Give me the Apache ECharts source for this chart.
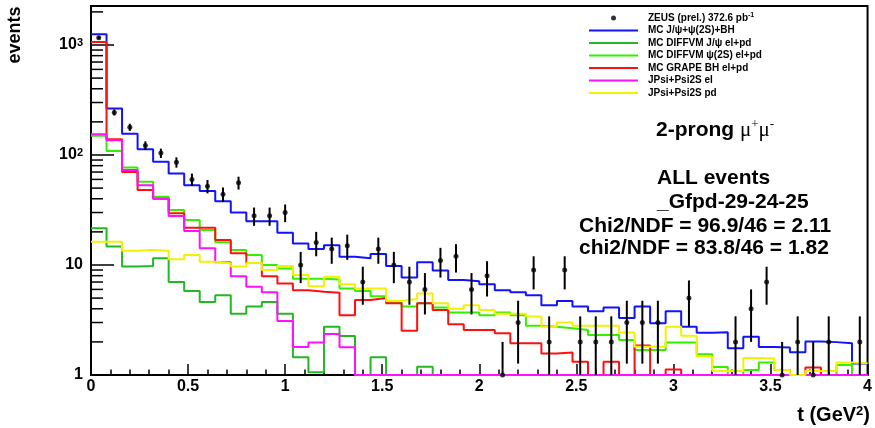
<!DOCTYPE html>
<html>
<head>
<meta charset="utf-8">
<title>t distribution, 2-prong</title>
<script src="https://cdn.jsdelivr.net/npm/echarts@6/dist/echarts.min.js"></script>
<style>
  html, body { margin: 0; padding: 0; background: #fff; }
  #chart { width: 875px; height: 428px; }
</style>
</head>
<body>
<div id="chart"></div>
<script>
// 50 bins of 0.08 GeV^2 between 0 and 4
const binWidth = 0.08;
const binCount = 50;
const yMin = 1;
const yMax = 2262;

// ZEUS (prel.) 372.6 pb-1, events per bin (0 = empty bin, no point)
const zeusCounts = [
  1165, 244, 179, 122, 104, 86, 60, 52, 44, 56,
  28, 28, 30, 10, 16, 14, 15, 7, 14, 10,
  7, 6, 11, 12, 6, 8, 1, 3, 9, 2,
  9, 2, 2, 2, 3, 3, 3, 0, 5, 0,
  0, 2, 4, 7, 1, 2, 1, 2, 0, 2
];

// MC J/psi+psi(2S)+BH (sum)
const mcTotal = [
  1250, 264, 156, 113, 87, 68, 53, 47, 38, 30,
  25, 25, 19.6, 15.7, 14.0, 15.1, 11.9, 11.5, 12.6, 9.8,
  7.7, 10.6, 8.9, 7.3, 7.1, 6.7, 5.9, 5.65, 5.3, 4.3,
  4.7, 4.2, 3.8, 4.1, 3.3, 4.2, 2.95, 3.8, 2.75, 2.42,
  2.45, 1.75, 2.23, 1.8, 1.78, 1.61, 2.02, 1.99, 1.94, 1.27
];

// MC DIFFVM J/psi el+pd
const diffvmJpsi = [
  21.6, 14.7, 9.7, 9.8, 11.5, 7.0, 5.8, 4.6, 5.3, 3.6,
  4.2, 4.6, 3.6, 1.45, 1.06, 2.75, 2.26, 0, 1.45, 0,
  1.0, 1.19, 0, 0, 0, 0, 0, 0, 0, 0,
  0, 0, 0, 0, 0, 0, 0, 1.0, 0, 0,
  0, 0, 0, 0, 0, 0, 0, 0, 0, 0
];

// MC DIFFVM psi(2S) el+pd
const diffvmPsi2s = [
  150, 109, 77, 57, 41.8, 31.6, 25.7, 20.8, 16.1, 13.7,
  12.3, 10, 9.3, 7.5, 7.5, 7.4, 6.1, 5.8, 5.2, 4.6,
  4.2, 4.5, 4.1, 3.7, 3.7, 3.5, 3.7, 3.5, 2.8, 2.75,
  2.66, 2.56, 2.31, 2.31, 2.08, 1.69, 1.69, 1.97, 1.97, 1.54,
  1.18, 0, 1.11, 1.3, 1.11, 0, 0, 0, 1.23, 0
];

// MC GRAPE BH el+pd
const grapeBH = [
  1065, 139, 70, 48, 40, 29.5, 21.8, 21.8, 16.9, 12.8,
  10.4, 7.9, 6.8, 5.9, 5.7, 5.6, 3.5, 4.8, 5.0, 4.5,
  2.53, 4.5, 3.9, 2.9, 2.56, 2.56, 2.4, 1.94, 1.94, 1.57,
  1.6, 1.32, 0, 1.32, 0, 1.85, 0, 1.12, 0, 0,
  1.0, 0, 0, 0, 0, 0, 1.17, 0, 0, 0
];

// JPsi+Psi2S el
const psiEl = [
  154, 136, 73, 53, 40, 27.9, 20.4, 14.2, 10.6, 7.9,
  6.35, 5.65, 3.1, 1.8, 1.97, 2.36, 1.79, 0, 0, 0,
  0, 0, 0, 0, 0, 0, 0, 0, 0, 0,
  0, 0, 0, 0, 0, 0, 0, 0, 0, 0,
  0, 0, 0, 0, 0, 0, 0, 0, 0, 0
];

// JPsi+Psi2S pd
const psiPd = [
  16.3, 16.3, 13.5, 13.7, 13.5, 11.3, 12.3, 10.7, 10.4, 9.7,
  10.4, 9.0, 9.8, 8.1, 6.4, 7.8, 6.7, 6.1, 6.1, 4.7,
  4.9, 5.5, 4.5, 4.0, 4.3, 3.9, 3.6, 3.6, 3.4, 2.75,
  3.0, 2.8, 2.8, 2.8, 2.43, 1.81, 1.81, 2.75, 2.27, 1.47,
  1.09, 1.09, 1.43, 1.41, 1.11, 0, 1.09, 1.09, 1.3, 1.28
];

// minor ticks of the log axis
const yMinorTicks = [2, 3, 4, 5, 6, 7, 8, 9, 20, 30, 40, 50, 60, 70, 80, 90,
  200, 300, 400, 500, 600, 700, 800, 900, 2000];

const zeusName = 'ZEUS (prel.) 372.6 pb-1';
const histos = [
  { name: 'MC J/ψ+ψ(2S)+BH', values: mcTotal, color: '#1212ff' },
  { name: 'MC DIFFVM J/ψ el+pd', values: diffvmJpsi, color: '#22b822' },
  { name: 'MC DIFFVM ψ(2S) el+pd', values: diffvmPsi2s, color: '#33f000' },
  { name: 'MC GRAPE BH el+pd', values: grapeBH, color: '#ff1010' },
  { name: 'JPsi+Psi2S el', values: psiEl, color: '#ff10ff' },
  { name: 'JPsi+Psi2S pd', values: psiPd, color: '#f2f200' }
];

const font = 'Liberation Sans';
const lineIcon = 'path://M0,0L49,0L49,2L0,2Z';

// step outline: one point per lower bin edge, plus the upper edge of the last bin
function stepData(values) {
  const pts = values.map((v, i) => [+(i * binWidth).toFixed(2), Math.max(v, yMin)]);
  pts.push([binCount * binWidth, Math.max(values[binCount - 1], yMin)]);
  return pts;
}

const zeusPoints = [];
zeusCounts.forEach((n, i) => {
  if (n > 0) zeusPoints.push([(i + 0.5) * binWidth, n]);
});

const histSeries = histos.map(h => ({
  name: h.name,
  type: 'line',
  step: 'end',
  symbol: 'none',
  data: stepData(h.values),
  lineStyle: { color: h.color, width: 2 },
  itemStyle: { color: h.color },
  z: 3
}));

const chart = echarts.init(document.getElementById('chart'));

chart.setOption({
  animation: false,
  grid: {
    left: 91, right: 4, top: 6, bottom: 53,
    show: true, borderColor: '#000', borderWidth: 2
  },
  legend: {
    orient: 'vertical',
    left: 589, top: 12,
    padding: 0,
    itemWidth: 49, itemHeight: 5, itemGap: 0.5,
    selectedMode: false,
    data: [{ name: zeusName, icon: 'circle' }].concat(histos.map(h => ({ name: h.name, icon: lineIcon }))),
    formatter: name => name === zeusName ? 'ZEUS (prel.) 372.6 pb{s|-1}' : name,
    textStyle: {
      fontFamily: font, fontWeight: 'bold', fontSize: 10, color: '#000',
      lineHeight: 12, padding: [0, 0, 0, 5],
      rich: {
        s: { fontFamily: font, fontWeight: 'bold', fontSize: 7, lineHeight: 7, verticalAlign: 'top' }
      }
    }
  },
  xAxis: {
    type: 'value', min: 0, max: 4, interval: 0.5,
    axisLine: { lineStyle: { color: '#000', width: 2 } },
    axisTick: { inside: true, length: 11, lineStyle: { color: '#000', width: 1.5 } },
    minorTick: { show: true, splitNumber: 5, length: 5.5, lineStyle: { color: '#000', width: 1.5 } },
    axisLabel: { fontFamily: font, fontWeight: 'bold', fontSize: 16, color: '#000', margin: 4 },
    splitLine: { show: false }
  },
  yAxis: {
    type: 'log', logBase: 10, min: yMin, max: yMax,
    axisLine: { lineStyle: { color: '#000', width: 2 } },
    axisTick: { inside: true, length: 23, lineStyle: { color: '#000', width: 1.5 } },
    axisLabel: {
      fontFamily: font, fontWeight: 'bold', fontSize: 16, color: '#000', margin: 8,
      showMaxLabel: false,
      formatter: v => {
        const e = Math.round(Math.log10(v));
        return e < 2 ? String(Math.round(v)) : '10{s|' + e + '}';
      },
      rich: {
        s: { fontFamily: font, fontWeight: 'bold', fontSize: 11, lineHeight: 9, verticalAlign: 'top' }
      }
    },
    splitLine: { show: false }
  },
  series: histSeries.concat([
    {
      // minor ticks of the y axis, 2..9 per decade
      name: 'yMinor',
      type: 'custom',
      silent: true,
      z: 4,
      data: yMinorTicks.map(v => [0, v]),
      renderItem: (params, api) => {
        const p = api.coord([api.value(0), api.value(1)]);
        return {
          type: 'line',
          shape: { x1: p[0], y1: p[1], x2: p[0] + 12, y2: p[1] },
          style: { stroke: '#000', lineWidth: 1.5 }
        };
      }
    },
    {
      // sqrt(N) error bars of the data
      name: 'zeusErr',
      type: 'custom',
      silent: true,
      z: 5,
      data: zeusPoints,
      renderItem: (params, api) => {
        const x = api.value(0);
        const n = api.value(1);
        const e = Math.sqrt(n);
        const top = api.coord([x, n + e]);
        const bot = api.coord([x, Math.max(n - e, yMin)]);
        return {
          type: 'line',
          shape: { x1: top[0], y1: top[1], x2: bot[0], y2: bot[1] },
          style: { stroke: '#000', lineWidth: 2 }
        };
      }
    },
    {
      name: zeusName,
      type: 'scatter',
      symbol: 'circle',
      symbolSize: 5,
      data: zeusPoints,
      itemStyle: { color: '#000' },
      z: 6
    }
  ]),
  graphic: [
    {
      type: 'text', x: 15, y: 35, rotation: Math.PI / 2,
      style: { text: 'events', fontFamily: font, fontWeight: 'bold', fontSize: 18, fill: '#000', align: 'center', verticalAlign: 'middle' }
    },
    {
      type: 'text', x: 870, y: 415,
      style: {
        text: 't (GeV{s|2})', fontFamily: font, fontWeight: 'bold', fontSize: 20, fill: '#000',
        align: 'right', verticalAlign: 'middle',
        rich: { s: { fontFamily: font, fontWeight: 'bold', fontSize: 13, lineHeight: 13, verticalAlign: 'top', fill: '#000' } }
      }
    },
    {
      type: 'text', x: 656, y: 130,
      style: {
        text: '{b|2-prong }{m|μ}{s|+}{m|μ}{s|-}', fill: '#000', align: 'left', verticalAlign: 'middle',
        rich: {
          b: { fontFamily: font, fontWeight: 'bold', fontSize: 21, lineHeight: 24 },
          m: { fontFamily: 'Liberation Serif', fontSize: 21, lineHeight: 24 },
          s: { fontFamily: 'Liberation Serif', fontSize: 13, lineHeight: 13, verticalAlign: 'top' }
        }
      }
    },
    {
      type: 'text', x: 657, y: 178,
      style: { text: 'ALL events', fontFamily: font, fontWeight: 'bold', fontSize: 21, fill: '#000', verticalAlign: 'middle' }
    },
    {
      type: 'text', x: 657, y: 202,
      style: { text: '_Gfpd-29-24-25', fontFamily: font, fontWeight: 'bold', fontSize: 21, fill: '#000', verticalAlign: 'middle' }
    },
    {
      type: 'text', x: 579, y: 226,
      style: { text: 'Chi2/NDF = 96.9/46 = 2.11', fontFamily: font, fontWeight: 'bold', fontSize: 21, fill: '#000', verticalAlign: 'middle' }
    },
    {
      type: 'text', x: 579, y: 248,
      style: { text: 'chi2/NDF = 83.8/46 = 1.82', fontFamily: font, fontWeight: 'bold', fontSize: 21, fill: '#000', verticalAlign: 'middle' }
    }
  ]
});
</script>
</body>
</html>
